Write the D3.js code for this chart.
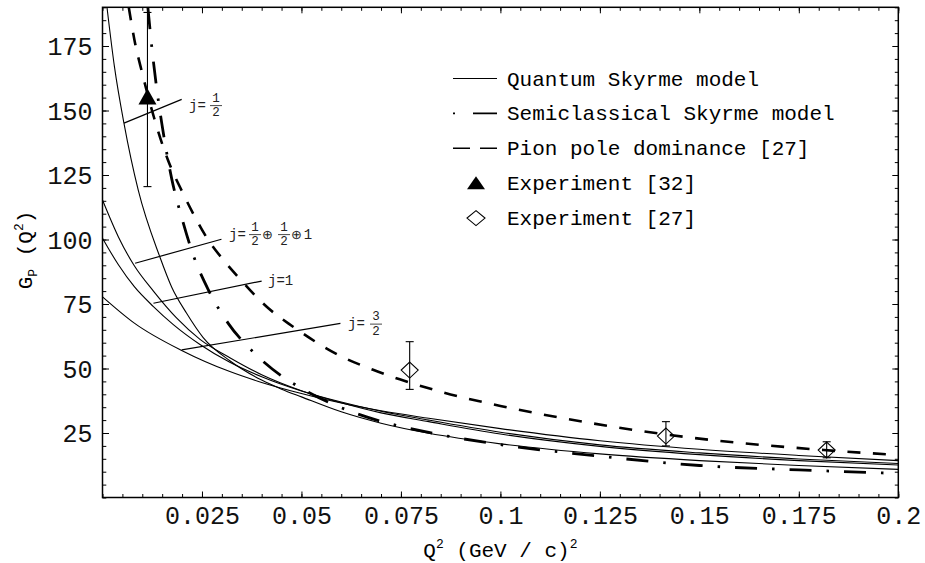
<!DOCTYPE html>
<html><head><meta charset="utf-8">
<script src="https://cdn.jsdelivr.net/npm/d3@7/dist/d3.min.js"></script>
<style>
body{margin:0;background:#fff}
svg{display:block}
text{font-family:"Liberation Mono","DejaVu Sans Mono",monospace;fill:#000}
</style>
</head><body>
<svg id="c" width="925" height="563"></svg>
<script>
// ---------------- data ----------------
const xTicks = [0.025,0.05,0.075,0.1,0.125,0.15,0.175,0.2];
const xTickLabels = ["0.025","0.05","0.075","0.1","0.125","0.15","0.175","0.2"];
const yTicks = [25,50,75,100,125,150,175];
const yTickLabels = ["25","50","75","100","125","150","175"];

// Quantum Skyrme model curves
const q2Half = [0.00113,0.003,0.0054,0.009,0.0144,0.0174,0.0211,0.0253,0.032,0.04,0.045,0.05,0.06,0.07,0.082,0.1,0.125,0.15,0.175,0.2];
const gpHalf = [190,167,145,119,93.3,81.5,71.5,62,53,45.5,42,39,33.2,28.8,24.9,20.8,16.9,14.3,12.4,10.9];

const q2Sum = [0,0.004,0.008,0.0128,0.0186,0.0245,0.032,0.04,0.05,0.06,0.07,0.082,0.1,0.125,0.15,0.175,0.2];
const gpSum = [115.3,101,89.8,80,69.6,61.3,54.2,47.6,41.4,36.7,32.8,29.4,24.6,19.8,16.6,14.3,12.6];

const q2One = [0,0.004,0.008,0.0128,0.0178,0.0245,0.032,0.04,0.05,0.06,0.07,0.082,0.1,0.125,0.15,0.175,0.2];
const gpOne = [100.5,90.2,81.7,74,67,59.3,52.4,46.8,41.3,37.0,33.4,30.0,25.3,20.4,17.3,14.95,13.2];

const q2ThreeHalf = [0,0.008,0.0199,0.032,0.04,0.05,0.06,0.07,0.082,0.1,0.125,0.15,0.175,0.2];
const gpThreeHalf = [77.8,67.6,57.0,48.8,44.6,40.3,36.6,33.6,30.7,26.7,22.0,18.7,16.3,14.3];

// Semiclassical Skyrme model
const q2Semi = [0.0114,0.0125,0.0135,0.0149,0.0174,0.02,0.0228,0.0266,0.0316,0.0378,0.0453,0.05,0.063,0.0722,0.082,0.1,0.125,0.15,0.175,0.2];
const gpSemi = [190,173,160,145,123.5,108,94,80.5,67.5,56.5,46.8,42.3,33,28.6,25.2,20.5,16.0,12.4,10.7,9.3];

// Pion pole dominance
const q2Pole = [0.0066,0.0082,0.0099,0.013,0.0164,0.0202,0.0235,0.0265,0.0302,0.0348,0.0412,0.0479,0.0596,0.068,0.0747,0.085,0.1,0.1148,0.1422,0.1813,0.2];
const gpPole = [190,176,165,147,131,118,108,100,92.4,84.3,74,66.2,55,49.5,45.8,41,35.5,31,24.3,18.4,16.5];

// Experiments
const expTriQ2 = [0.0113];
const expTriG  = [154.3];
const expTriLo = [120.5];
const expTriHi = [188];

const expDiaQ2 = [0.0772,0.1416,0.182];
const expDiaG  = [49.4,23.8,18.4];
const expDiaLo = [41.9,20.0,15.4];
const expDiaHi = [60.4,29.4,21.6];

const legendLabels = ["Quantum Skyrme model","Semiclassical Skyrme model","Pion pole dominance [27]","Experiment [32]","Experiment [27]"];

// curve annotations: line from curve point to label point (data coords)
const annLineFrom = [[0.0054,145.1],[0.0082,90.8],[0.0128,75.3],[0.0199,57.2]];
const annLineTo   = [[0.0199,154.3],[0.0299,100.1],[0.0400,83.9],[0.0598,67.5]];
const annTextAt   = [[0.02174,151.9],[0.0318,101.9],[0.0416,82.4],[0.0617,67.2]];

// ---------------- drawing ----------------
const svg = d3.select("#c");
svg.append("rect").attr("width",925).attr("height",563).attr("fill","#fff");

const x = d3.scaleLinear().domain([0,0.2]).range([102.5,898.3]);
const y = d3.scaleLinear().domain([0,190]).range([497.5,7.3]);

svg.append("defs").append("clipPath").attr("id","plot")
  .append("rect").attr("x",x(0)).attr("y",y(190)).attr("width",x(0.2)-x(0)).attr("height",y(0)-y(190));

const line = d3.line().x(d=>x(d[0])).y(d=>y(d[1])).curve(d3.curveMonotoneX);
const plot = svg.append("g").attr("clip-path","url(#plot)");

const solid = [[q2Half,gpHalf],[q2Sum,gpSum],[q2One,gpOne],[q2ThreeHalf,gpThreeHalf]];
solid.forEach(([q,g])=>{
  plot.append("path").attr("d",line(d3.zip(q,g))).attr("fill","none")
    .attr("stroke","#000").attr("stroke-width",1.1);
});
plot.append("path").attr("d",line(d3.zip(q2Semi,gpSemi))).attr("fill","none")
  .attr("stroke","#000").attr("stroke-width",2.8).attr("stroke-dasharray","22,15,2.5,15");
plot.append("path").attr("d",line(d3.zip(q2Pole,gpPole))).attr("fill","none")
  .attr("stroke","#000").attr("stroke-width",2.6).attr("stroke-dasharray","13,12.5");

// annotation lines
annLineFrom.forEach((f,i)=>{
  const t = annLineTo[i];
  svg.append("line").attr("x1",x(f[0])).attr("y1",y(f[1])).attr("x2",x(t[0])).attr("y2",y(t[1]))
    .attr("stroke","#000").attr("stroke-width",1.2);
});

// annotation texts
const aFont = 14, fFont = 12.5;
function jEq(g, px, py){ g.append("text").attr("x",px).attr("y",py).style("font-size",aFont+"px").style("fill","#222").text("j="); }
function frac(g, cx, by, n, d){
  g.append("text").attr("x",cx).attr("y",by-3.9).attr("text-anchor","middle").style("font-size",fFont+"px").style("fill","#222").text(n);
  g.append("line").attr("x1",cx-6).attr("x2",cx+6).attr("y1",by).attr("y2",by).attr("stroke","#333").attr("stroke-width",0.9);
  g.append("text").attr("x",cx).attr("y",by+10.8).attr("text-anchor","middle").style("font-size",fFont+"px").style("fill","#222").text(d);
}
const ag = svg.append("g");
{ // j = 1/2
  const px=x(annTextAt[0][0]), by=y(annTextAt[0][1]);
  jEq(ag,px,by+4); frac(ag,px+27,by,"1","2");
}
{ // j = 1/2 ⊕ 1/2 ⊕ 1
  const px=x(annTextAt[1][0]), by=y(annTextAt[1][1]);
  jEq(ag,px,by+4); frac(ag,px+26,by,"1","2");
  ag.append("text").attr("x",px+38.5).attr("y",by+4).attr("text-anchor","middle").style("font-size","13px").style("font-family","DejaVu Sans").style("fill","#222").text("\u2295");
  frac(ag,px+55,by,"1","2");
  ag.append("text").attr("x",px+67.5).attr("y",by+4).attr("text-anchor","middle").style("font-size","13px").style("font-family","DejaVu Sans").style("fill","#222").text("\u2295");
  ag.append("text").attr("x",px+79).attr("y",by+4).attr("text-anchor","middle").style("font-size",aFont+"px").style("fill","#222").text("1");
}
{ // j = 1
  const px=x(annTextAt[2][0]), by=y(annTextAt[2][1]);
  ag.append("text").attr("x",px).attr("y",by).style("font-size",aFont+"px").style("fill","#222").text("j=1");
}
{ // j = 3/2
  const px=x(annTextAt[3][0]), by=y(annTextAt[3][1]);
  jEq(ag,px,by+4); frac(ag,px+28,by,"3","2");
}

// experiments: error bars + markers
function errBar(qx, lo, hi){
  const cx=x(qx);
  svg.append("line").attr("x1",cx).attr("x2",cx).attr("y1",y(lo)).attr("y2",y(hi)).attr("stroke","#000").attr("stroke-width",1.1);
  [lo,hi].forEach(v=>svg.append("line").attr("x1",cx-4).attr("x2",cx+4).attr("y1",y(v)).attr("y2",y(v)).attr("stroke","#000").attr("stroke-width",1.1));
}
expTriQ2.forEach((q,i)=>{
  errBar(q,expTriLo[i],expTriHi[i]);
  const cx=x(q), cy=y(expTriG[i]);
  svg.append("path").attr("d",`M${cx},${cy-11}L${cx+9},${cy+5}L${cx-9},${cy+5}Z`).attr("fill","#000");
});
expDiaQ2.forEach((q,i)=>{
  errBar(q,expDiaLo[i],expDiaHi[i]);
  const cx=x(q), cy=y(expDiaG[i]);
  svg.append("path").attr("d",`M${cx},${cy-8}L${cx+8.5},${cy}L${cx},${cy+8}L${cx-8.5},${cy}Z`)
    .attr("fill","none").attr("stroke","#000").attr("stroke-width",1.1);
});

// ---------------- frame & axes ----------------
const xMinor = d3.range(0,0.2001,0.005);
const yMinor = d3.range(0,190.01,5);
function styleAxis(g){ g.select(".domain").remove(); g.selectAll(".tick line").attr("stroke","#000").attr("stroke-width",1); }

const gb = svg.append("g").attr("transform",`translate(0,${y(0)})`)
  .call(d3.axisBottom(x).tickValues(xTicks).tickSize(-6).tickPadding(9).tickFormat((d,i)=>xTickLabels[i]));
styleAxis(gb);
gb.selectAll(".tick text").style("font-size","25px").style("font-family","Liberation Mono").style("fill","#111").attr("dy",null).attr("y",26.5);
svg.append("g").attr("transform",`translate(0,${y(0)})`).call(d3.axisBottom(x).tickValues(xMinor).tickSize(-3.5).tickFormat("")).call(styleAxis);
svg.append("g").attr("transform",`translate(0,${y(190)})`).call(d3.axisTop(x).tickValues(xTicks).tickSize(-6).tickFormat("")).call(styleAxis);
svg.append("g").attr("transform",`translate(0,${y(190)})`).call(d3.axisTop(x).tickValues(xMinor).tickSize(-3.5).tickFormat("")).call(styleAxis);

const gl = svg.append("g").attr("transform",`translate(${x(0)},0)`)
  .call(d3.axisLeft(y).tickValues(yTicks).tickSize(-6.5).tickPadding(10).tickFormat((d,i)=>yTickLabels[i]));
styleAxis(gl);
gl.selectAll(".tick text").style("font-size","25px").style("font-family","Liberation Mono").style("fill","#111").attr("x",-10).attr("dy","0.34em");
svg.append("g").attr("transform",`translate(${x(0)},0)`).call(d3.axisLeft(y).tickValues(yMinor).tickSize(-3.8).tickFormat("")).call(styleAxis);
svg.append("g").attr("transform",`translate(${x(0.2)},0)`).call(d3.axisRight(y).tickValues(yTicks).tickSize(-6).tickFormat("")).call(styleAxis);
svg.append("g").attr("transform",`translate(${x(0.2)},0)`).call(d3.axisRight(y).tickValues(yMinor).tickSize(-3.5).tickFormat("")).call(styleAxis);

svg.append("rect").attr("x",x(0)).attr("y",y(190)).attr("width",x(0.2)-x(0)).attr("height",y(0)-y(190))
  .attr("fill","none").attr("stroke","#000").attr("stroke-width",1.5);

// axis titles
const xt = svg.append("text").attr("x",(x(0)+x(0.2))/2).attr("y",557).attr("text-anchor","middle").style("font-size","21px");
xt.append("tspan").text("Q");
xt.append("tspan").attr("dy",-9).style("font-size","13px").text("2");
xt.append("tspan").attr("dy",9).text(" (GeV / c)");
xt.append("tspan").attr("dy",-9).style("font-size","13px").text("2");

const yt = svg.append("text").attr("transform","translate(32,250) rotate(-90)").attr("text-anchor","middle").style("font-size","21px");
yt.append("tspan").text("G");
yt.append("tspan").attr("dy",5).style("font-size","13px").text("P");
yt.append("tspan").attr("dy",-5).text(" (Q");
yt.append("tspan").attr("dy",-9).style("font-size","13px").text("2");
yt.append("tspan").attr("dy",9).text(")");

// ---------------- legend ----------------
const lg = svg.append("g");
const lx0 = 453, lx1 = 497, tx = 507;
legendLabels.forEach((t,i)=>{
  const bl = 85.5 + i*34.9;
  const my = bl - 7;
  lg.append("text").attr("x",tx).attr("y",bl).style("font-size","21px").text(t);
  if(i===0) lg.append("line").attr("x1",lx0).attr("x2",lx1).attr("y1",my).attr("y2",my).attr("stroke","#000").attr("stroke-width",1.1);
  if(i===1) lg.append("line").attr("x1",lx0).attr("x2",lx1).attr("y1",my).attr("y2",my).attr("stroke","#000").attr("stroke-width",1.6).attr("stroke-dasharray","2,18,24");
  if(i===2) lg.append("line").attr("x1",lx0).attr("x2",lx1).attr("y1",my).attr("y2",my).attr("stroke","#000").attr("stroke-width",1.6).attr("stroke-dasharray","17,10");
  if(i===3) lg.append("path").attr("d",`M476,${my-7}L485,${my+6}L467,${my+6}Z`).attr("fill","#000");
  if(i===4) lg.append("path").attr("d",`M476,${my-7.5}L485,${my}L476,${my+7.5}L467,${my}Z`).attr("fill","none").attr("stroke","#000").attr("stroke-width",1.1);
});
</script>
</body></html>
